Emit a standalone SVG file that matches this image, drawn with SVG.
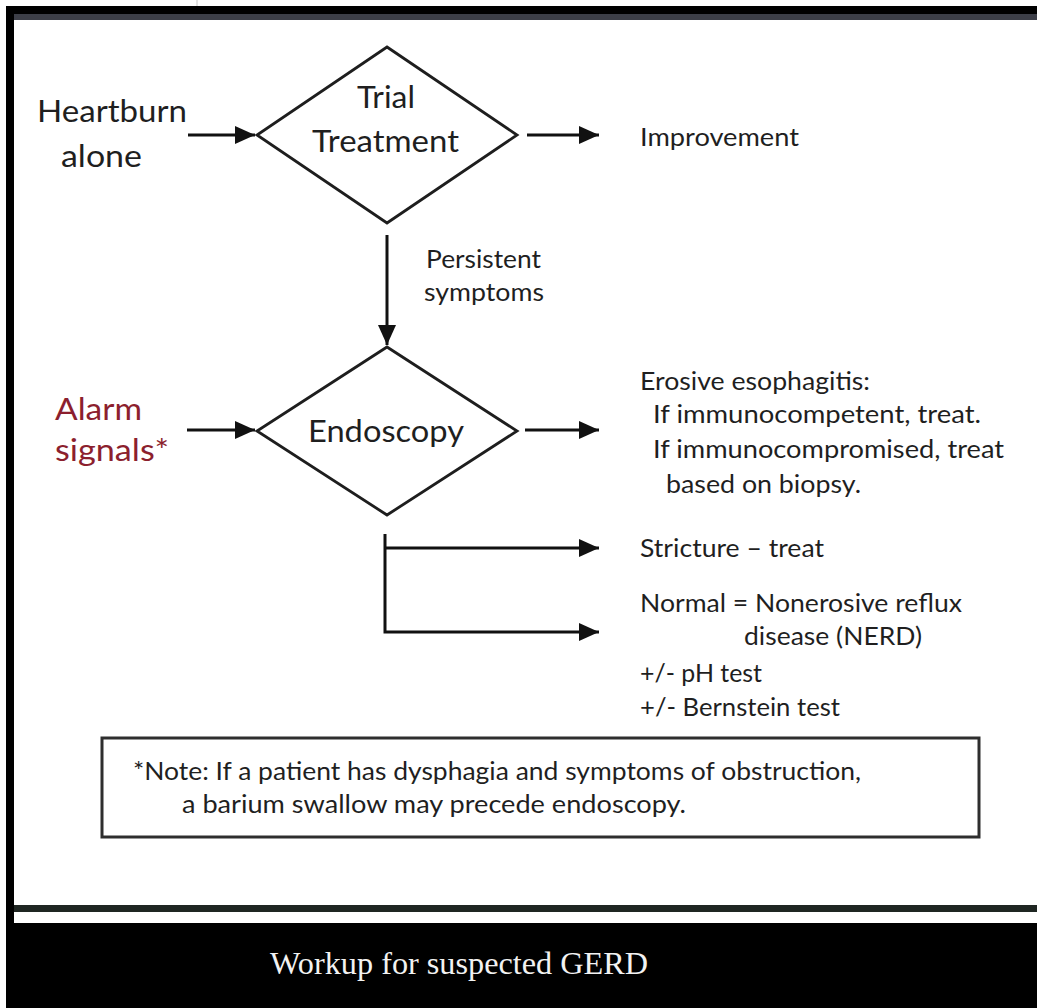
<svg xmlns="http://www.w3.org/2000/svg" width="1037" height="1008" viewBox="0 0 1037 1008">
  <style>
    .t { font-family: Lato, "Open Sans", "Liberation Sans", sans-serif; fill: #1f1f1f; }
    .big { font-size: 30px; }
    .sm { font-size: 25px; }
    .red { fill: #8c1f2e; }
    .shape { fill: none; stroke: #1e1e1e; stroke-width: 2.8; stroke-linejoin: miter; }
    .conn { fill: none; stroke: #111; stroke-width: 3; }
    .cap { font-family: "Liberation Serif", "DejaVu Serif", serif; font-size: 32px; fill: #f2f2f2; }
  </style>
  <defs>
    <marker id="ah" markerUnits="userSpaceOnUse" markerWidth="22" markerHeight="20" refX="20" refY="9" orient="auto">
      <path d="M0,0 L20,9 L0,18 Z" fill="#111"/>
    </marker>
  </defs>

  <!-- frame -->
  <g id="frame">
    <rect x="0" y="0" width="1037" height="1008" fill="#ffffff"/>
    <line x1="197" y1="0" x2="197" y2="6" stroke="#c8c8c8" stroke-width="1"/>
    <rect x="6" y="6" width="1031" height="8" fill="#000"/>
    <rect x="14" y="14" width="1023" height="6" fill="#3d3f48"/>
    <rect x="6" y="6" width="8" height="917" fill="#000"/>
    <rect x="14" y="905" width="1023" height="7" fill="#1f2622"/>
    <rect x="6" y="923" width="1031" height="85" fill="#000"/>
  </g>

  <!-- connectors -->
  <g id="connectors">
    <line class="conn" x1="188" y1="135" x2="255" y2="135" marker-end="url(#ah)"/>
    <line class="conn" x1="527" y1="135" x2="599" y2="135" marker-end="url(#ah)"/>
    <line class="conn" x1="387" y1="235" x2="387" y2="345" marker-end="url(#ah)"/>
    <line class="conn" x1="187" y1="430" x2="255" y2="430" marker-end="url(#ah)"/>
    <line class="conn" x1="525" y1="430" x2="599" y2="430" marker-end="url(#ah)"/>
    <path class="conn" d="M385,534 V632 H599" marker-end="url(#ah)"/>
    <line class="conn" x1="385" y1="548" x2="599" y2="548" marker-end="url(#ah)"/>
  </g>

  <g id="heartburn">
    <text class="t big" x="37" y="122" textLength="150" lengthAdjust="spacingAndGlyphs">Heartburn</text>
    <text class="t big" x="61" y="167" textLength="81" lengthAdjust="spacingAndGlyphs">alone</text>
  </g>

  <g id="trial-treatment">
    <polygon class="shape" points="387,47 517,135 387,223 257,135"/>
    <text class="t big" x="357" y="108" textLength="58" lengthAdjust="spacingAndGlyphs">Trial</text>
    <text class="t big" x="312" y="152" textLength="147" lengthAdjust="spacingAndGlyphs">Treatment</text>
  </g>

  <g id="improvement">
    <text class="t sm" x="640" y="146" textLength="159" lengthAdjust="spacingAndGlyphs">Improvement</text>
  </g>

  <g id="persistent">
    <text class="t sm" x="426" y="268" textLength="115" lengthAdjust="spacingAndGlyphs">Persistent</text>
    <text class="t sm" x="424" y="301" textLength="120" lengthAdjust="spacingAndGlyphs">symptoms</text>
  </g>

  <g id="alarm">
    <text class="t big red" x="55" y="420" textLength="87" lengthAdjust="spacingAndGlyphs">Alarm</text>
    <text class="t big red" x="55" y="461" textLength="114" lengthAdjust="spacingAndGlyphs">signals*</text>
  </g>

  <g id="endoscopy">
    <polygon class="shape" points="387,347 517,431 387,515 257,431"/>
    <text class="t big" x="308" y="442" textLength="156" lengthAdjust="spacingAndGlyphs">Endoscopy</text>
  </g>

  <g id="erosive">
    <text class="t sm" x="640" y="390" textLength="230" lengthAdjust="spacingAndGlyphs">Erosive esophagitis:</text>
    <text class="t sm" x="653" y="423" textLength="328" lengthAdjust="spacingAndGlyphs">If immunocompetent, treat.</text>
    <text class="t sm" x="653" y="458" textLength="351" lengthAdjust="spacingAndGlyphs">If immunocompromised, treat</text>
    <text class="t sm" x="666" y="493" textLength="195" lengthAdjust="spacingAndGlyphs">based on biopsy.</text>
  </g>

  <g id="stricture">
    <text class="t sm" x="640" y="557" textLength="184" lengthAdjust="spacingAndGlyphs">Stricture – treat</text>
  </g>

  <g id="normal">
    <text class="t sm" x="640" y="612" textLength="322" lengthAdjust="spacingAndGlyphs">Normal = Nonerosive reflux</text>
    <text class="t sm" x="744" y="645" textLength="178" lengthAdjust="spacingAndGlyphs">disease (NERD)</text>
    <text class="t sm" x="640" y="682" textLength="122" lengthAdjust="spacingAndGlyphs">+/- pH test</text>
    <text class="t sm" x="640" y="716" textLength="200" lengthAdjust="spacingAndGlyphs">+/- Bernstein test</text>
  </g>

  <g id="note">
    <rect x="102" y="738" width="877" height="99" fill="none" stroke="#2e2e2e" stroke-width="3"/>
    <text class="t sm" x="133" y="780" textLength="728" lengthAdjust="spacingAndGlyphs">*Note: If a patient has dysphagia and symptoms of obstruction,</text>
    <text class="t sm" x="182" y="813" textLength="504" lengthAdjust="spacingAndGlyphs">a barium swallow may precede endoscopy.</text>
  </g>

  <g id="caption">
    <text class="cap" x="270" y="974" textLength="378" lengthAdjust="spacingAndGlyphs">Workup for suspected GERD</text>
  </g>
</svg>
